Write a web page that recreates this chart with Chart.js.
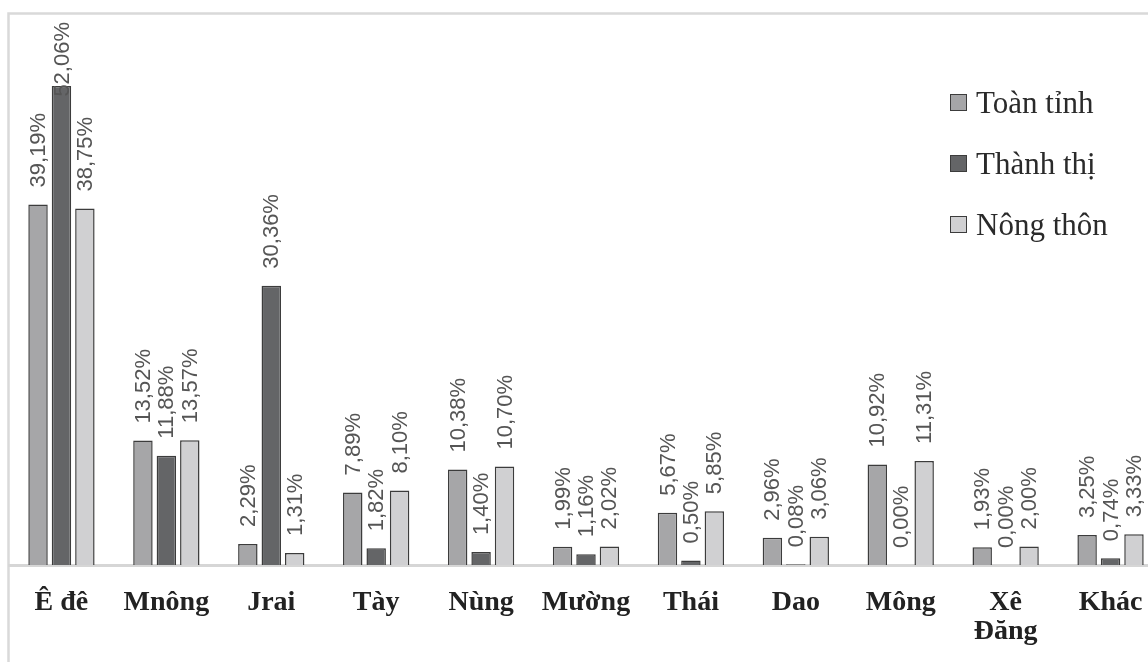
<!DOCTYPE html>
<html>
<head>
<meta charset="utf-8">
<script src="https://cdn.jsdelivr.net/npm/chart.js@4/dist/chart.umd.min.js"></script>
<style>
    body { margin: 0; background: #fff; overflow: hidden; }
    #wrap { position: relative; width: 1175px; height: 662px; }
    #legend { position: absolute; left: 950px; top: 72px; font-family: "Liberation Serif", serif; font-size: 31px; color: #2a2a2a; }
    #legend div { height: 61px; display: flex; align-items: center; }
    #legend span.box { display: inline-block; width: 15px; height: 15px; border: 1.5px solid #3c3c3c; margin-right: 9px; }
</style>
</head>
<body>
<div id="wrap">
    <canvas id="ethnicChart"></canvas>
    <div id="legend"></div>
</div>
<script>
// categories and series (percent)
const categories = ["Ê đê", "Mnông", "Jrai", "Tày", "Nùng", "Mường", "Thái", "Dao", "Mông", ["Xê", "Đăng"], "Khác"];
const seriesNames = ["Toàn tỉnh", "Thành thị", "Nông thôn"];
const toanTinh = [39.19, 13.52, 2.29, 7.89, 10.38, 1.99, 5.67, 2.96, 10.92, 1.93, 3.25];
const thanhThi = [52.06, 11.88, 30.36, 1.82, 1.40, 1.16, 0.50, 0.08, 0.00, 0.00, 0.74];
const nongThon = [38.75, 13.57, 1.31, 8.10, 10.70, 2.02, 5.85, 3.06, 11.31, 2.00, 3.33];
const colors = ["#a6a6a8", "#646567", "#d0d0d2"];

// legend on the right
const legendEl = document.getElementById("legend");
seriesNames.forEach(function(name, i) {
    const row = document.createElement("div");
    row.innerHTML = '<span class="box" style="background:' + colors[i] + '"></span>' + name;
    legendEl.appendChild(row);
});

// frame round the plot
const framePlugin = {
    id: "frame",
    beforeDraw(chart) {
        const ctx = chart.ctx;
        ctx.save();
        ctx.strokeStyle = "#d9d9d9";
        ctx.lineWidth = 2.5;
        ctx.beginPath();
        ctx.moveTo(8.5, chart.height);
        ctx.lineTo(8.5, 13.5);
        ctx.lineTo(chart.width, 13.5);
        ctx.stroke();
        ctx.restore();
    }
};

// rotated value labels above the bars
const valueLabels = {
    id: "valueLabels",
    afterDatasetsDraw(chart) {
        const ctx = chart.ctx;
        ctx.save();
        ctx.font = "22px 'Liberation Sans', sans-serif";
        ctx.fillStyle = "#555";
        ctx.textAlign = "left";
        ctx.textBaseline = "middle";
        chart.data.datasets.forEach(function(ds, i) {
            chart.getDatasetMeta(i).data.forEach(function(bar, j) {
                const text = ds.data[j].toFixed(2).replace(".", ",") + "%";
                const w = ctx.measureText(text).width;
                let bottom = bar.y - 17;
                if (bottom - w < 22) bottom = 22 + w;
                ctx.save();
                ctx.translate(bar.x + 1, bottom);
                ctx.rotate(-Math.PI / 2);
                ctx.fillText(text, 0, 0);
                ctx.restore();
            });
        });
        ctx.restore();
    }
};

const ctx = document.getElementById("ethnicChart").getContext("2d");
new Chart(ctx, {
    type: "bar",
    data: {
        labels: categories,
        datasets: [toanTinh, thanhThi, nongThon].map(function(values, i) {
            return {
                label: seriesNames[i],
                data: values,
                backgroundColor: colors[i],
                borderColor: "#3c3c3c",
                borderWidth: 1.5,
                barPercentage: 0.83,
                categoryPercentage: 0.67
            };
        })
    },
    options: {
        responsive: true,
        maintainAspectRatio: false,
        animation: false,
        layout: { padding: { left: 9, right: 12, top: 13, bottom: 0 } },
        plugins: {
            legend: { display: false },
            tooltip: { enabled: false }
        },
        scales: {
            x: {
                grid: { display: false, drawTicks: false },
                border: { color: "#d6d6d6", width: 3 },
                ticks: {
                    padding: 23,
                    color: "#222",
                    maxRotation: 0,
                    autoSkip: false,
                    font: { family: "'Liberation Serif', serif", size: 28, weight: "bold", lineHeight: 1.05 }
                },
                afterFit: function(scale) { scale.height = 97; }
            },
            y: {
                display: false,
                min: 0,
                max: 60
            }
        }
    },
    plugins: [framePlugin, valueLabels]
});
</script>
</body>
</html>
